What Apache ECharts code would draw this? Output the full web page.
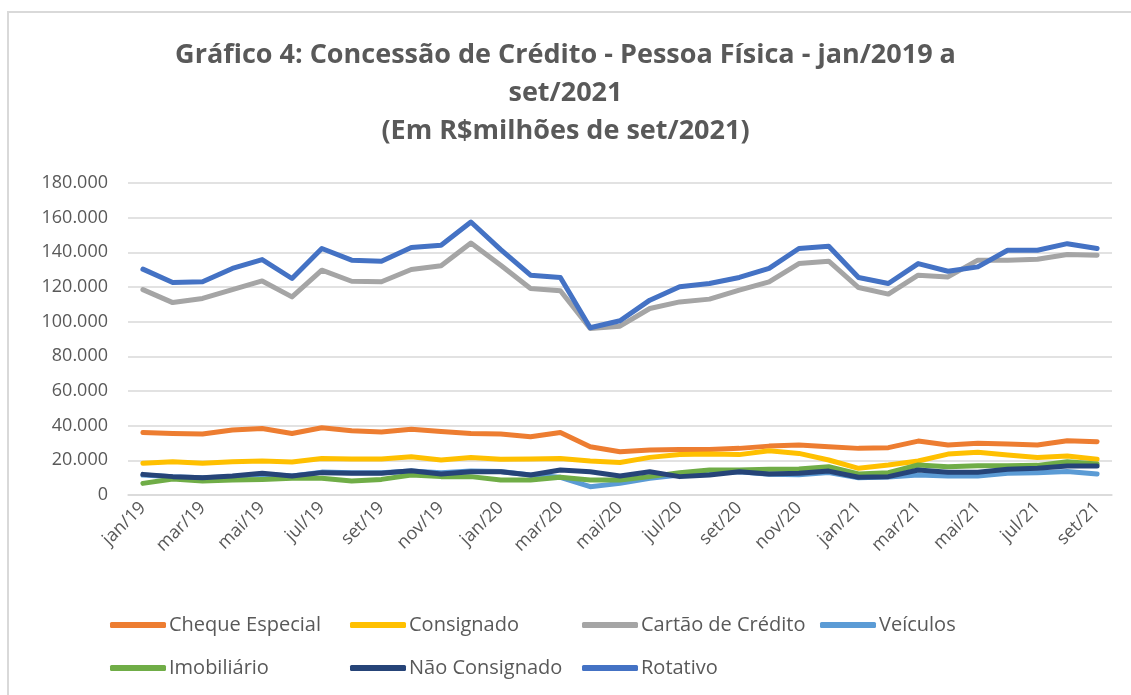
<!DOCTYPE html>
<html>
<head>
<meta charset="utf-8">
<script src="https://cdn.jsdelivr.net/npm/echarts@6/dist/echarts.min.js"></script>
<style>
  html, body { margin: 0; padding: 0; background: #fff; }
  #myChart { width: 1131px; height: 695px; }
</style>
</head>
<body>
<div id="myChart"></div>
<script>
// meses jan/19 .. set/21
var meses = ["jan/19","fev/19","mar/19","abr/19","mai/19","jun/19","jul/19","ago/19","set/19","out/19","nov/19","dez/19",
  "jan/20","fev/20","mar/20","abr/20","mai/20","jun/20","jul/20","ago/20","set/20","out/20","nov/20","dez/20",
  "jan/21","fev/21","mar/21","abr/21","mai/21","jun/21","jul/21","ago/21","set/21"];

var chequeEspecial = [36100,35500,35200,37500,38400,35500,38800,37100,36300,37900,36700,35500,35200,33600,36100,27800,
  25000,25900,26300,26300,26900,28200,28800,27800,26900,27300,31100,28800,29800,29400,28800,31300,30700];
var consignado = [18300,19200,18300,19200,19600,19000,21100,20800,20800,22100,20200,21700,20600,20800,21100,19600,
  18800,21700,23400,23600,23300,25500,24000,20200,15400,17300,19600,23600,24600,23100,21700,22500,20600];
var cartaoCredito = [118500,111000,113400,118500,123500,114300,129700,123300,123000,130100,132200,145400,132600,119100,117800,96100,
  97400,107600,111400,113000,118200,123000,133500,134900,119700,115900,126800,125800,135500,135500,136000,138700,138300];
var veiculos = [11500,10500,10000,10500,12000,11000,13200,12900,12900,13800,12800,13800,13600,11500,10200,4800,
  6700,9600,11500,12500,13400,11900,11700,13000,10000,10400,11500,11000,11000,12500,12900,13600,12100];
var imobiliario = [6700,9200,8100,8600,9000,9600,9600,8100,9000,11500,10600,10600,8600,8600,10200,8600,
  8600,10600,12900,14400,14400,14800,15000,16300,12100,12900,17300,16300,16900,16900,17100,19200,17900];
var naoConsignado = [11900,10600,10000,11000,12500,11000,12900,12500,12500,14000,12100,13400,13400,11500,14400,13400,
  11000,13400,10600,11500,13400,12100,12500,13800,10200,10600,14400,13100,13100,14800,15400,16700,16700];
var rotativo = [130300,122600,123000,130700,135800,124900,142200,135500,134900,142800,144100,157500,141600,126800,125500,96500,
  100500,112400,120100,122000,125500,130700,142200,143500,125500,122000,133500,129100,131600,141200,141200,145000,142200];

var yTicks = [0, 20000, 40000, 60000, 80000, 100000, 120000, 140000, 160000, 180000];

var nomes = ["Cheque Especial","Consignado","Cartão de Crédito","Veículos","Imobiliário","Não Consignado","Rotativo"];
var valores = [chequeEspecial, consignado, cartaoCredito, veiculos, imobiliario, naoConsignado, rotativo];
var cores = ["#ED7D31","#FFC000","#A5A5A5","#5B9BD5","#70AD47","#264478","#4472C4"];

var fonte = "'Open Sans', sans-serif";
var cinza = "#595959";

function fmt(v) {
  return String(v).replace(/\B(?=(\d{3})+(?!\d))/g, ".");
}

var myChart = echarts.init(document.getElementById("myChart"));

var series = nomes.map(function (n, i) {
  return {
    name: n,
    type: "line",
    data: valores[i],
    symbol: "none",
    lineStyle: { width: 5, color: cores[i], cap: "round", join: "round" },
    itemStyle: { color: cores[i] }
  };
});

function legenda(left, itens) {
  return {
    data: itens,
    orient: "vertical",
    left: left,
    top: 615,
    padding: 0,
    itemWidth: 56,
    itemHeight: 6,
    itemGap: 23,
    icon: "roundRect",
    selectedMode: false,
    textStyle: { color: cinza, fontSize: 20, fontFamily: fonte, padding: [0, 0, 0, -2] }
  };
}

myChart.setOption({
  animation: false,
  backgroundColor: "#fff",
  graphic: [{
    type: "rect",
    shape: { x: 8, y: 12, width: 1300, height: 900 },
    style: { fill: "none", stroke: "#d9d9d9", lineWidth: 2 },
    silent: true
  }],
  title: {
    text: "Gráfico 4: Concessão de Crédito - Pessoa Física - jan/2019 a\nset/2021\n(Em R$milhões de set/2021)",
    left: "center",
    top: 31,
    textStyle: { color: cinza, fontSize: 27, fontWeight: "bold", fontFamily: fonte, lineHeight: 38 }
  },
  legend: [
    legenda(110, ["Cheque Especial", "Imobiliário"]),
    legenda(350, ["Consignado", "Não Consignado"]),
    legenda(582, ["Cartão de Crédito", "Rotativo"]),
    legenda(820, ["Veículos"])
  ],
  grid: { left: 128, right: 19, top: 183, bottom: 200 },
  xAxis: {
    type: "category",
    data: meses,
    boundaryGap: true,
    axisTick: { show: false },
    axisLine: { lineStyle: { color: "#d9d9d9", width: 1.5 } },
    axisLabel: {
      interval: 1,
      rotate: 45,
      margin: 10,
      color: cinza,
      fontSize: 18,
      fontFamily: fonte
    }
  },
  yAxis: {
    type: "value",
    min: 0,
    max: 180000,
    interval: 20000,
    axisLine: { show: false },
    axisTick: { show: false },
    splitLine: { lineStyle: { color: "#d9d9d9", width: 1.5 } },
    axisLabel: {
      margin: 20,
      color: cinza,
      fontSize: 18,
      fontFamily: fonte,
      formatter: function (v) { return yTicks.indexOf(v) >= 0 ? fmt(v) : ""; }
    }
  },
  series: series
});
</script>
</body>
</html>
